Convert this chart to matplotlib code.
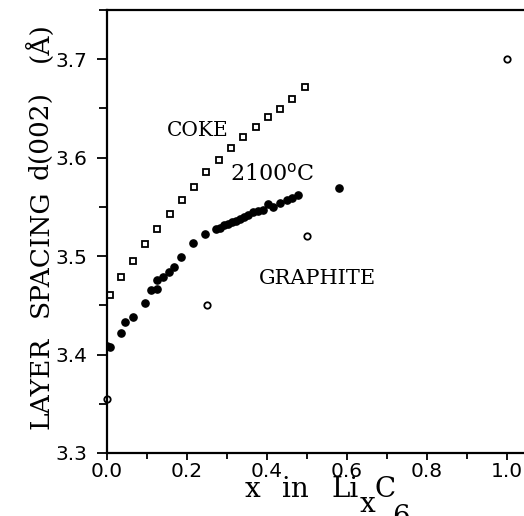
import matplotlib
matplotlib.use("Agg")
import matplotlib.pyplot as plt
from matplotlib.ticker import MultipleLocator, FormatStrFormatter

# ---- data ----
coke_x = [0.0075, 0.035, 0.065, 0.095, 0.125, 0.1575, 0.1875, 0.2175, 0.2475,
          0.28, 0.31, 0.34, 0.3725, 0.4025, 0.4325, 0.4625, 0.495]
coke_y = [3.461, 3.479, 3.495, 3.512, 3.528, 3.543, 3.557, 3.570, 3.585,
          3.598, 3.610, 3.621, 3.631, 3.641, 3.649, 3.660, 3.672]

c2100_x = [0.0, 0.0075, 0.035, 0.045, 0.065, 0.095, 0.11, 0.125, 0.125, 0.14,
           0.155, 0.1675, 0.185, 0.215, 0.245, 0.2725, 0.2825, 0.2925, 0.3025,
           0.3125, 0.3225, 0.3325, 0.3425, 0.3525, 0.365, 0.3775, 0.39, 0.4025,
           0.415, 0.4325, 0.45, 0.4625, 0.4775, 0.58]
c2100_y = [3.409, 3.408, 3.422, 3.433, 3.438, 3.452, 3.466, 3.467, 3.476, 3.479,
           3.484, 3.489, 3.499, 3.513, 3.522, 3.528, 3.529, 3.532, 3.533,
           3.535, 3.536, 3.538, 3.540, 3.542, 3.545, 3.546, 3.547, 3.553,
           3.550, 3.554, 3.557, 3.559, 3.562, 3.569]

graphite_x = [0.0, 0.25, 0.5, 1.0]
graphite_y = [3.355, 3.450, 3.520, 3.700]

xticks = [0.0, 0.2, 0.4, 0.6, 0.8, 1.0]
yticks = [3.3, 3.4, 3.5, 3.6, 3.7]

W, H = 524, 516
fig = plt.figure(figsize=(W / 100, H / 100), dpi=100)

def fx(px):
    return px / W

def fy(py):
    return 1 - py / H

# axes: left spine at px 107, x=1.0 at px 507, y 3.3 at px 453, top at px 10
ax = fig.add_axes([fx(107), fy(453), 420 / W, (453 - 10) / H])
ax.set_xlim(0, 1.05)
ax.set_ylim(3.3, 3.75)

ax.plot(coke_x, coke_y, linestyle='none', marker='s', markersize=4.2,
        markerfacecolor='white', markeredgecolor='black', markeredgewidth=1.3)
ax.plot(c2100_x, c2100_y, linestyle='none', marker='o', markersize=5.2,
        markerfacecolor='black', markeredgecolor='black')
ax.plot(graphite_x, graphite_y, linestyle='none', marker='o', markersize=4.6,
        markerfacecolor='white', markeredgecolor='black', markeredgewidth=1.3,
        clip_on=False)

ax.spines['right'].set_visible(False)
for s in ['left', 'bottom', 'top']:
    ax.spines[s].set_linewidth(1.6)

ax.set_xticks(xticks)
ax.set_yticks(yticks)
ax.xaxis.set_minor_locator(MultipleLocator(0.1))
ax.yaxis.set_minor_locator(MultipleLocator(0.05))
ax.xaxis.set_major_formatter(FormatStrFormatter('%.1f'))
ax.yaxis.set_major_formatter(FormatStrFormatter('%.1f'))
ax.tick_params(axis='x', which='major', direction='out', length=5, width=1.3,
               pad=1.5, labelsize=14.5, top=False)
ax.tick_params(axis='x', which='minor', direction='out', length=4.5, width=1.3, top=False)
ax.tick_params(axis='y', which='major', direction='out', length=7, width=1.3,
               pad=7, labelsize=14.5, right=False)
ax.tick_params(axis='y', which='minor', direction='out', length=6, width=1.3, right=False)
for lab in ax.get_xticklabels() + ax.get_yticklabels():
    lab.set_family('DejaVu Sans')

serif = 'DejaVu Serif'
ax.text(0.2275, 3.628, 'COKE', family=serif, fontsize=14.5, ha='center', va='center')
ax.text(0.4125, 3.583, '2100$^{\\mathrm{o}}$C', family=serif, fontsize=16,
        ha='center', va='center')
ax.text(0.525, 3.4777, 'GRAPHITE', family=serif, fontsize=15, ha='center', va='center')

# y label pieces (rotated)
for txt, cy in [('LAYER', 382.5), ('SPACING', 253.5), ('d(002)', 135), ('(Å)', 42)]:
    fig.text(fx(48), fy(cy), txt, family=serif, fontsize=19, rotation=90,
             rotation_mode='anchor', ha='center', va='baseline')

# x label pieces
for txt, left, base in [('x', 245, 497), ('in', 282, 497), ('Li', 332, 497),
                        ('x', 360, 512), ('C', 375, 497), ('6', 392, 525)]:
    fig.text(fx(left), fy(base), txt, family=serif, fontsize=20,
             ha='left', va='baseline')

fig.savefig('out.png', dpi=100)
